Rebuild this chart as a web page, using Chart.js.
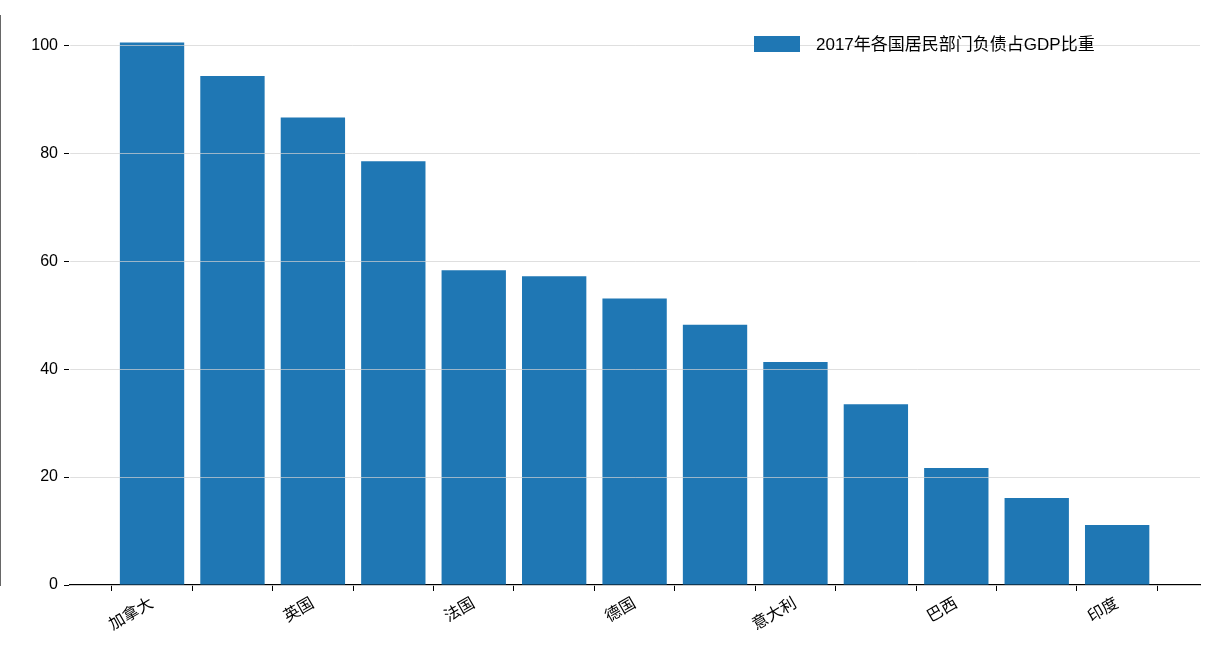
<!DOCTYPE html>
<html><head><meta charset="utf-8">
<script src="https://cdn.jsdelivr.net/npm/chart.js@4/dist/chart.umd.min.js"></script>
<style>html,body{margin:0;padding:0;background:#fff}#c{display:block}</style>
</head><body>
<div style="width:1216px;height:672px"><canvas id="c"></canvas></div>
<script>
const categories = ['加拿大','澳大利亚','英国','美国','法国','日本','德国','欧元区','意大利','俄罗斯','巴西','墨西哥','印度'];
const values = [100.5, 94.3, 86.6, 78.5, 58.3, 57.2, 53.1, 48.2, 41.3, 33.5, 21.7, 16.1, 11.1];
const yTicks = [0, 20, 40, 60, 80, 100];
const seriesLabel = '2017年各国居民部门负债占GDP比重';
const FONT = "'Liberation Sans','Noto Sans CJK SC',sans-serif";

const legendPlugin = {
  id: 'innerLegend',
  afterDraw(chart) {
    const ctx = chart.ctx, ds = chart.data.datasets[0];
    ctx.save();
    ctx.fillStyle = ds.backgroundColor;
    ctx.fillRect(754, 36, 46, 16);
    ctx.fillStyle = '#000';
    ctx.font = "17px " + FONT;
    ctx.textBaseline = 'middle';
    ctx.fillText(ds.label, 816, 45);
    ctx.restore();
  }
};

new Chart(document.getElementById('c'), {
  type: 'bar',
  data: {
    datasets: [{
      label: seriesLabel,
      data: values.map((v, i) => ({x: i, y: v})),
      backgroundColor: '#1f77b4',
      barPercentage: 0.8,
      categoryPercentage: 1.0
    }]
  },
  options: {
    responsive: true, maintainAspectRatio: false, animation: false,
    layout: {padding: {top: 15, right: 16, left: 0, bottom: 0}},
    plugins: {legend: {display: false}, tooltip: {enabled: false}},
    scales: {
      x: {
        type: 'linear', min: -1.02, max: 13.03, offset: false,
        afterBuildTicks: s => { s.ticks = categories.map((c, i) => ({value: i})); },
        afterFit: s => { s.height = 87; },
        border: {color: '#000', width: 1.2},
        grid: {drawOnChartArea: false, tickLength: 6, color: '#000'},
        ticks: {
          autoSkip: false, maxRotation: 30, minRotation: 30, color: '#000',
          font: {family: FONT, size: 16},
          callback: (v) => (v % 2 === 0 ? categories[v] : '')
        }
      },
      y: {
        min: 0, max: 105.5,
        afterBuildTicks: s => { s.ticks = yTicks.map(v => ({value: v})); },
        afterFit: s => { s.width = 70; },
        border: {color: '#000', width: 1.2},
        grid: {z: 1, color: 'rgba(210,210,210,0.7)', tickLength: 6, tickColor: '#000', drawTicks: true},
        ticks: {color: '#000', font: {family: FONT, size: 16}, padding: 6}
      }
    }
  },
  plugins: [legendPlugin]
});
</script>
</body></html>
